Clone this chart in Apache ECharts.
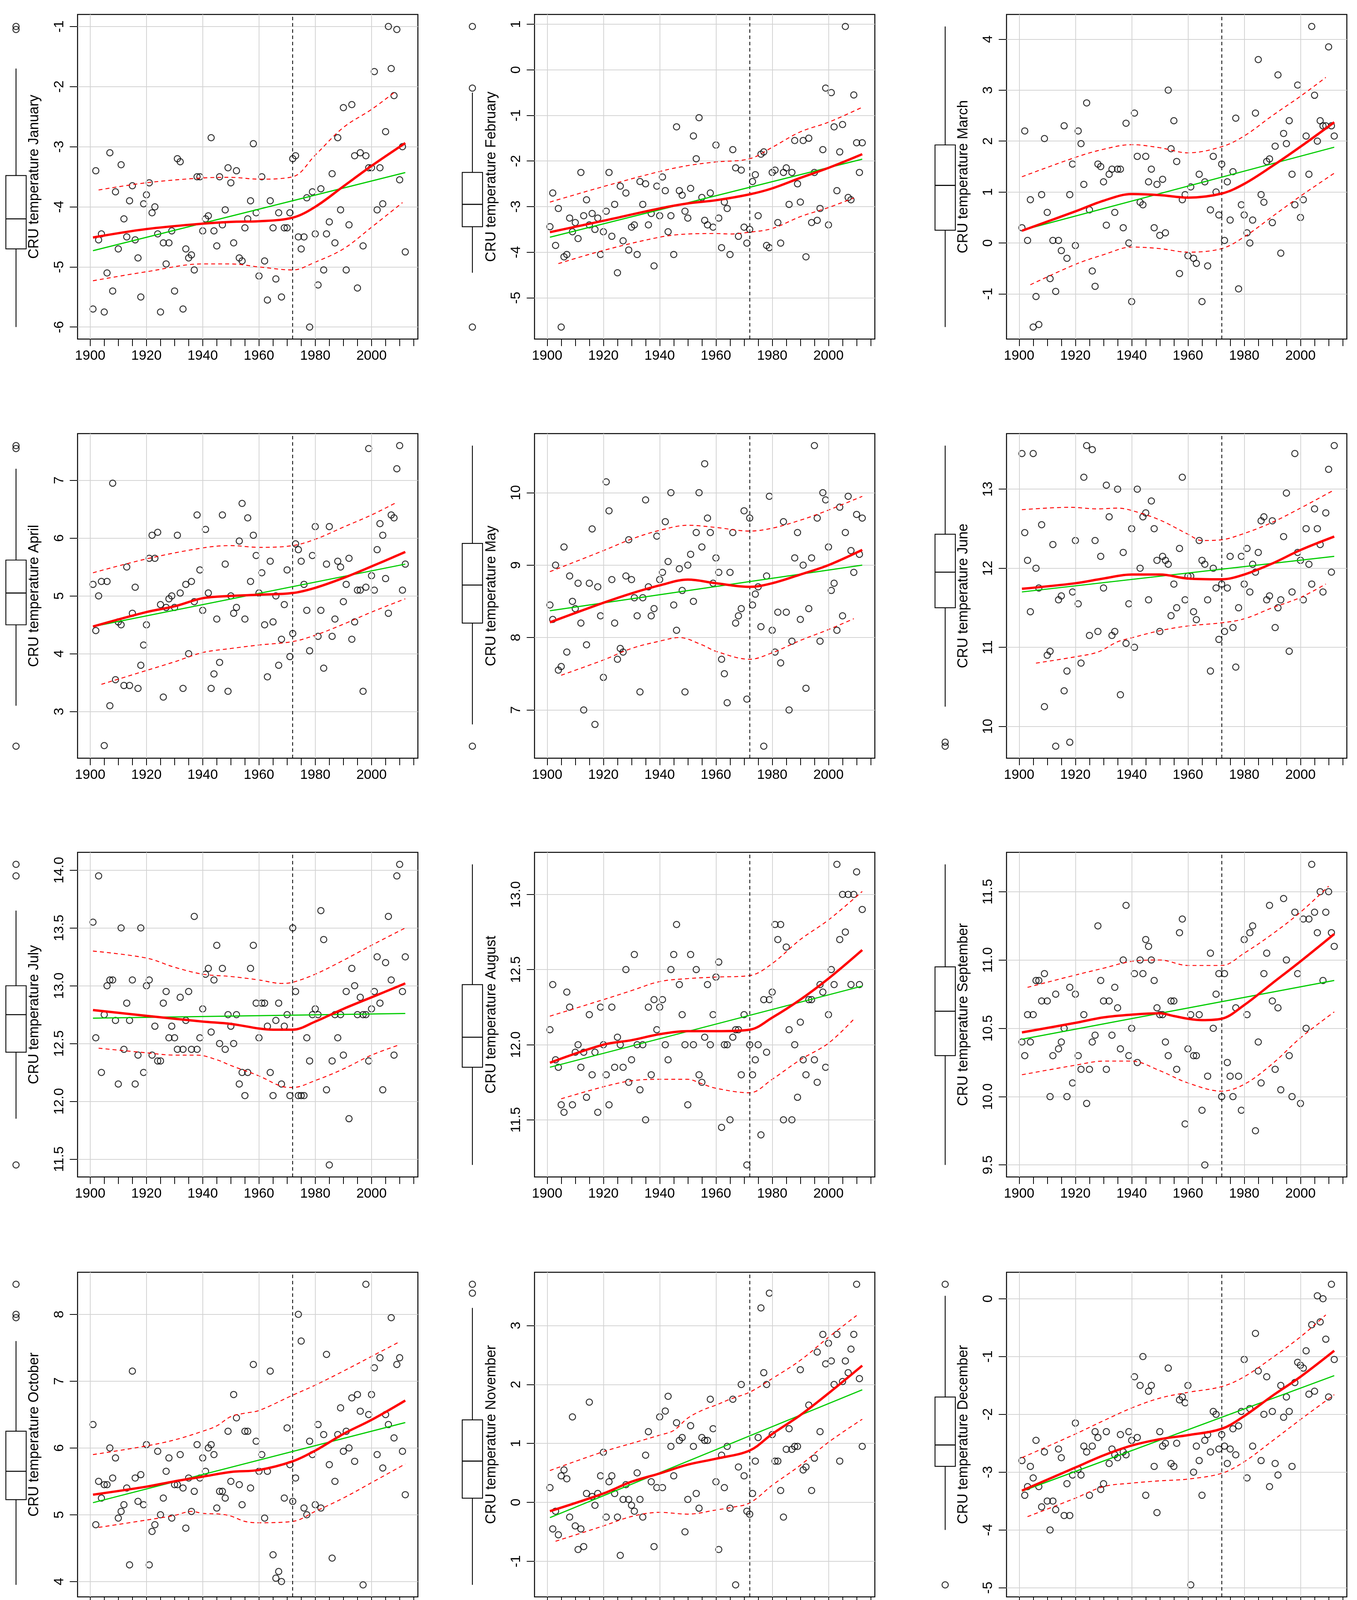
<!DOCTYPE html>
<html>
<head>
<meta charset="utf-8">
<script src="https://cdn.jsdelivr.net/npm/echarts@6/dist/echarts.min.js"></script>
<style>html,body{margin:0;padding:0;background:#fff}#c{width:3473px;height:4171px}</style>
</head>
<body>
<div id="c"></div>
<script>
// ---------------- DATA ----------------
const firstYear = 1901, lastYear = 2012;
const breakYear = 1972;
const monthNames = ['January','February','March','April','May','June','July','August','September','October','November','December'];
const xTickValues = [1900,1905,1910,1915,1920,1925,1930,1935,1940,1945,1950,1955,1960,1965,1970,1975,1980,1985,1990,1995,2000,2005,2010,2015];
const xLabelValues = [1900,1920,1940,1960,1980,2000];
const xRange = [1895.52, 2016.48];

const janVals = [-5.7,-3.4,-4.55,-4.45,-5.75,-5.1,-3.1,-5.4,-3.75,-4.7,
 -3.3,-4.2,-4.5,-3.9,-3.65,-4.55,-4.85,-5.5,-3.95,-3.8,
 -3.6,-4.1,-4.0,-4.45,-5.75,-4.6,-4.95,-4.6,-4.4,-5.4,
 -3.2,-3.25,-5.7,-4.7,-4.85,-4.8,-5.05,-3.5,-3.5,-4.4,
 -4.2,-4.15,-2.85,-4.4,-4.65,-3.5,-4.3,-4.05,-3.35,-3.6,
 -4.6,-3.4,-4.85,-4.9,-4.35,-4.2,-3.9,-2.95,-4.1,-5.15,
 -3.5,-4.9,-5.55,-3.9,-4.35,-5.2,-4.1,-5.5,-4.35,-4.35,
 -4.1,-3.2,-3.15,-4.5,-4.7,-4.5,-3.85,-6.0,-3.75,-4.45,
 -5.3,-3.7,-5.05,-4.45,-4.25,-3.45,-4.6,-2.85,-4.05,-2.35,
 -5.05,-4.3,-2.3,-3.15,-5.35,-3.1,-4.65,-3.15,-3.35,-3.35,
 -1.75,-4.05,-3.35,-3.95,-2.75,-1.0,-1.7,-2.15,-1.05,-3.55,
 -3.0,-4.75];
const febVals = [-3.44,-2.70,-3.85,-3.04,-5.64,-4.10,-4.05,-3.25,-3.55,-3.35,
 -3.70,-2.25,-3.20,-2.85,-3.40,-3.15,-3.50,-3.25,-4.05,-3.55,
 -3.10,-2.25,-3.65,-2.95,-4.45,-2.55,-3.75,-2.70,-3.95,-3.45,
 -3.40,-4.05,-2.45,-2.95,-2.50,-3.40,-3.15,-4.30,-2.55,-3.20,
 -2.35,-2.65,-3.55,-3.20,-4.05,-1.25,-2.65,-2.75,-3.10,-3.25,
 -2.60,-1.45,-1.95,-1.05,-2.80,-3.30,-3.40,-2.70,-3.45,-1.65,
 -3.25,-3.90,-2.90,-3.04,-4.05,-1.75,-2.15,-3.65,-2.20,-3.45,
 -3.80,-3.50,-2.45,-2.30,-3.20,-1.85,-1.80,-3.85,-3.90,-2.25,
 -2.20,-3.35,-3.80,-2.25,-2.15,-2.95,-2.25,-1.55,-2.50,-2.90,
 -1.55,-4.10,-1.50,-3.35,-2.25,-3.30,-3.04,-1.75,-0.40,-3.40,
 -0.50,-1.25,-2.65,-1.80,-1.20,0.95,-2.80,-2.85,-0.55,-1.60,
 -2.25,-1.60];
const marVals = [0.30,2.20,0.05,0.85,-1.65,-1.05,-1.60,0.95,2.05,0.60,
 -0.70,0.05,-0.95,0.05,-0.15,2.30,-0.30,0.95,1.55,-0.05,
 2.20,1.95,1.15,2.75,0.65,-0.55,-0.85,1.55,1.50,1.20,
 0.35,1.35,1.45,0.60,1.45,1.45,0.30,2.35,0.0,-1.15,
 2.55,1.70,0.80,0.75,1.70,1.20,1.45,0.30,1.15,0.15,
 1.25,0.20,3.00,1.85,2.40,1.60,-0.60,0.85,0.95,-0.25,
 1.10,-0.30,-0.40,1.35,-1.15,1.20,-0.45,0.65,1.70,1.00,
 0.55,1.55,0.05,1.20,0.45,1.40,2.45,-0.90,0.75,0.55,
 0.20,0.0,0.45,2.55,3.60,0.95,0.80,1.60,1.65,0.40,
 1.90,3.30,-0.20,2.15,1.95,2.40,1.35,0.75,3.10,0.50,
 0.85,2.10,1.35,4.25,2.90,2.00,2.40,2.30,2.30,3.85,
 2.30,2.10];
const aprVals = [5.20,4.40,5.00,5.25,2.41,5.25,3.10,6.95,3.55,4.55,
 4.50,3.45,5.50,3.45,4.70,5.15,3.40,3.80,4.15,4.50,
 5.65,6.05,5.65,6.10,4.85,3.25,4.80,4.95,5.00,4.80,
 6.05,5.05,3.40,5.20,4.00,5.25,4.90,6.40,5.45,4.75,
 6.15,5.05,3.40,3.65,4.60,3.85,6.40,5.55,3.35,5.00,
 4.70,4.80,5.95,6.60,4.60,6.35,5.25,6.05,5.70,5.05,
 5.40,4.50,3.60,5.60,4.55,5.00,3.80,4.25,4.85,5.45,
 3.95,4.35,5.90,5.80,5.60,5.20,4.75,4.05,5.70,6.20,
 4.30,4.75,3.75,5.55,6.20,4.30,4.60,5.60,5.50,4.90,
 5.20,5.65,4.25,4.55,5.10,5.10,3.35,5.15,7.55,5.35,
 5.10,5.80,6.25,6.05,5.30,4.70,6.40,6.35,7.20,7.60,
 5.10,5.55];
const mayVals = [8.45,8.25,9.00,7.55,7.60,9.25,7.80,8.85,8.50,8.40,
 8.75,8.20,7.00,7.90,8.75,9.50,6.80,8.70,8.30,7.45,
 10.15,9.75,8.80,8.20,7.70,7.85,7.80,8.85,9.35,8.80,
 8.55,8.30,7.25,8.55,9.90,8.70,8.30,8.40,9.40,8.80,
 8.90,9.60,9.05,10.00,8.45,8.10,8.95,8.65,7.25,9.00,
 9.15,8.50,9.45,10.00,9.25,10.40,9.65,9.45,8.75,9.10,
 8.90,7.70,7.50,7.10,8.90,9.45,8.20,8.30,8.40,9.75,
 7.15,9.65,8.45,8.60,8.70,8.15,6.50,8.85,9.95,8.10,
 7.80,8.35,7.65,9.60,8.35,7.00,7.95,9.10,9.45,8.25,
 9.00,7.30,8.40,9.10,10.65,9.65,7.95,10.00,9.90,9.25,
 8.65,8.75,8.10,9.80,8.30,9.45,9.95,9.20,8.90,9.70,
 9.15,9.65];
const junVals = [13.45,12.45,12.10,11.45,13.45,12.00,11.75,12.55,10.25,10.90,
 10.95,12.30,9.75,11.60,11.65,10.45,10.70,9.80,11.70,12.35,
 11.55,10.80,13.15,13.55,11.15,13.50,12.35,11.20,12.15,11.75,
 13.05,12.65,11.15,11.20,13.00,10.40,12.20,11.05,11.55,12.50,
 11.00,13.00,12.00,12.65,12.70,11.60,12.85,12.50,12.10,11.20,
 12.15,12.10,12.05,11.40,11.80,11.50,12.25,13.15,11.60,11.90,
 11.90,11.45,11.35,12.35,12.10,12.05,11.60,10.70,12.00,11.75,
 11.10,11.80,11.20,11.75,12.15,11.25,10.75,11.50,12.15,11.80,
 12.25,11.70,12.05,11.95,12.20,12.60,12.65,11.60,11.65,12.60,
 11.25,11.50,11.60,12.40,12.95,10.95,11.70,13.45,12.20,12.10,
 11.60,12.50,12.05,11.80,12.75,12.50,12.30,11.70,12.70,13.25,
 11.95,13.55];
const julVals = [13.55,12.55,13.95,12.25,12.75,13.00,13.05,13.05,12.70,12.15,
 13.50,12.45,12.85,12.70,13.05,12.15,12.40,13.50,12.25,13.00,
 13.05,12.40,12.65,12.35,12.35,12.85,12.95,12.55,12.65,12.55,
 12.45,12.90,12.45,12.70,12.95,12.45,13.60,12.45,12.55,12.80,
 13.10,13.15,12.60,13.05,13.35,12.50,13.15,12.45,12.75,12.65,
 12.50,12.75,12.15,12.25,12.05,12.25,13.15,13.35,12.85,12.55,
 12.85,12.85,12.65,12.25,12.05,12.70,12.85,12.15,12.65,12.75,
 12.05,13.50,12.95,12.05,12.05,12.05,12.55,12.35,12.75,12.80,
 12.75,13.65,13.40,12.10,11.45,12.35,12.75,12.55,12.75,12.40,
 12.95,11.85,13.15,13.00,12.75,12.90,12.75,12.75,12.35,12.80,
 12.95,13.25,12.85,12.10,13.20,13.60,13.05,12.40,13.95,14.05,
 12.95,13.25];
const augVals = [12.10,12.40,11.90,11.85,11.60,11.55,12.35,12.25,11.60,11.95,
 12.00,11.85,11.95,11.65,12.20,11.80,11.95,11.55,12.25,12.00,
 11.80,11.60,12.25,11.85,12.05,12.00,11.85,12.50,11.75,11.90,
 12.60,12.00,11.70,12.00,11.50,12.25,11.80,12.30,12.10,12.25,
 12.30,12.00,11.90,12.50,12.60,12.80,12.40,12.20,12.00,11.60,
 12.60,12.00,12.50,11.80,11.75,12.05,12.40,12.00,12.20,12.45,
 12.55,11.45,12.00,12.00,11.50,12.05,12.10,12.10,11.80,12.20,
 11.20,12.00,11.80,11.90,12.00,11.40,12.30,11.95,12.30,12.35,
 12.80,12.70,12.80,11.50,12.65,12.10,11.50,12.00,11.65,12.15,
 11.90,11.80,12.30,12.30,11.90,11.75,12.40,12.35,11.85,12.20,
 12.50,12.40,13.20,12.70,13.00,12.75,13.00,12.40,13.00,13.15,
 12.40,12.90];
const sepVals = [10.40,10.30,10.60,10.40,10.60,10.85,10.85,10.70,10.90,10.70,
 10.00,10.30,10.75,10.35,10.40,10.50,10.00,10.80,10.10,10.75,
 10.30,10.20,10.60,9.95,10.20,10.40,10.45,11.25,10.85,10.70,
 10.20,10.70,10.45,10.80,10.65,10.35,11.00,11.40,10.30,10.50,
 10.90,10.25,11.00,10.90,11.15,11.10,11.00,10.85,10.65,10.60,
 10.60,10.40,10.30,10.70,10.70,10.20,11.20,11.30,9.80,10.35,
 10.60,10.30,10.30,10.60,9.90,9.50,10.15,11.05,10.50,10.75,
 10.90,10.00,10.90,10.25,10.15,10.00,10.65,10.15,9.90,11.15,
 10.60,11.20,11.25,9.75,10.40,10.10,10.90,11.05,11.40,10.70,
 10.20,10.65,10.05,11.45,11.00,10.30,10.00,11.35,10.90,9.95,
 11.30,10.50,11.30,11.70,11.35,11.20,11.50,10.85,11.35,11.50,
 11.20,11.10];
const octVals = [6.35,4.85,5.50,5.25,5.45,5.45,6.00,5.55,5.85,4.95,
 5.05,5.15,5.40,4.25,7.15,5.55,5.20,5.60,5.15,6.05,
 4.25,4.75,4.85,5.95,5.00,5.25,5.65,5.85,4.95,5.45,
 5.45,5.90,5.40,4.80,5.55,5.05,5.35,6.05,5.55,5.85,
 5.65,6.00,6.05,5.90,5.10,5.35,5.35,5.25,6.25,5.50,
 6.80,6.45,5.45,5.15,6.25,6.25,5.40,7.25,6.10,5.65,
 5.90,4.95,5.65,7.15,4.40,4.05,4.15,4.00,5.25,6.30,
 5.75,5.20,5.55,8.00,7.60,5.10,5.00,6.10,5.90,5.15,
 6.35,5.10,6.20,7.40,5.75,4.35,5.50,6.20,6.60,5.95,
 6.25,6.00,6.75,5.80,6.80,6.55,3.95,8.45,6.50,6.80,
 7.20,5.90,7.35,5.70,6.50,6.35,7.95,6.15,7.25,7.35,
 5.95,5.30];
const novVals = [0.25,-0.45,-0.15,-0.55,0.45,0.55,0.40,-0.25,1.45,-0.40,
 -0.80,-0.45,-0.75,0.15,1.70,0.10,-0.05,0.15,0.45,0.85,
 -0.25,0.35,0.45,0.15,-0.25,-0.90,0.05,0.30,0.05,-0.05,
 -0.15,0.50,0.05,-0.25,0.80,1.20,0.35,-0.75,0.25,1.45,
 0.25,1.55,1.80,0.95,0.45,1.35,1.05,1.10,-0.50,0.05,
 1.30,0.95,0.15,-0.10,1.10,1.05,1.05,1.75,1.25,0.35,
 -0.80,0.80,0.25,0.95,-0.10,1.75,-1.40,0.60,2.00,0.45,
 -0.15,-0.20,0.15,0.70,1.10,3.30,2.20,2.00,3.55,1.15,
 0.70,0.70,0.20,-0.25,0.90,1.25,0.90,0.95,0.95,2.25,
 0.55,0.60,1.65,0.20,0.75,2.55,1.20,2.85,2.35,2.70,
 2.40,2.00,2.85,0.70,2.05,2.40,2.20,2.60,2.85,3.70,
 2.10,0.95];
const decVals = [-2.80,-3.40,-3.25,-2.90,-3.10,-2.45,-3.25,-3.60,-2.65,-3.50,
 -4.00,-3.50,-3.65,-2.60,-2.75,-3.75,-3.20,-3.75,-3.05,-2.15,
 -2.95,-3.05,-2.55,-2.65,-3.40,-2.55,-2.30,-2.40,-3.30,-3.20,
 -2.30,-2.85,-2.60,-2.70,-2.75,-2.35,-2.65,-2.70,-2.30,-2.45,
 -1.35,-2.40,-1.50,-1.00,-3.40,-1.60,-1.50,-2.90,-3.70,-2.30,
 -2.55,-2.50,-1.20,-2.85,-2.90,-2.50,-1.75,-1.70,-1.80,-1.50,
 -4.95,-3.00,-2.55,-2.80,-3.40,-2.45,-2.35,-2.65,-1.95,-2.00,
 -2.60,-2.35,-2.55,-2.85,-2.60,-2.25,-2.70,-2.20,-1.95,-1.05,
 -3.10,-1.90,-2.55,-0.60,-1.25,-2.80,-2.00,-1.35,-3.25,-1.95,
 -2.85,-3.05,-1.50,-2.05,-1.70,-1.95,-2.90,-1.45,-1.10,-1.15,
 -1.20,-0.90,-1.65,-0.45,-1.60,0.05,-0.40,0.00,-0.70,-1.70,
 0.25,-1.05];

// smooth fit (red), its dashed band, linear fit (green): [year, value]
const janFit = [[1901,-4.51],[1920,-4.37],[1940,-4.28],[1950,-4.25],[1960,-4.24],[1972,-4.18],[1980,-4.0],[1990,-3.66],[2000,-3.32],[2012,-2.94]];
const janUp  = [[1903,-3.72],[1920,-3.6],[1940,-3.52],[1950,-3.51],[1960,-3.54],[1972,-3.5],[1980,-3.14],[1990,-2.68],[2000,-2.38],[2008,-2.1]];
const janLo  = [[1901,-5.23],[1920,-5.08],[1940,-4.95],[1950,-4.95],[1960,-5.0],[1972,-5.05],[1980,-4.92],[1990,-4.70],[2000,-4.34],[2011,-3.93]];
const janLin = [[1901,-4.73],[2012,-3.43]];
const febFit = [[1901,-3.56],[1920,-3.31],[1940,-3.04],[1950,-2.93],[1960,-2.86],[1972,-2.73],[1980,-2.60],[1990,-2.37],[2000,-2.15],[2012,-1.85]];
const febUp  = [[1901,-2.90],[1920,-2.56],[1940,-2.23],[1950,-2.10],[1960,-2.02],[1972,-1.95],[1980,-1.70],[1990,-1.36],[2000,-1.15],[2012,-0.82]];
const febLo  = [[1904,-4.25],[1920,-3.96],[1940,-3.67],[1950,-3.60],[1960,-3.59],[1965,-3.60],[1972,-3.56],[1980,-3.48],[1990,-3.22],[2000,-3.02],[2009,-2.81]];
const febLin = [[1901,-3.67],[2012,-1.96]];
const marFit = [[1901,0.24],[1920,0.62],[1930,0.83],[1940,0.96],[1950,0.94],[1960,0.89],[1972,0.97],[1980,1.16],[1990,1.51],[2000,1.89],[2012,2.37]];
const marUp  = [[1901,1.30],[1920,1.68],[1930,1.84],[1940,1.93],[1950,1.87],[1960,1.77],[1972,1.89],[1980,2.10],[1990,2.50],[2000,2.88],[2009,3.25]];
const marLo  = [[1904,-0.82],[1920,-0.42],[1930,-0.23],[1940,-0.08],[1950,-0.11],[1960,-0.18],[1972,-0.11],[1980,0.12],[1990,0.52],[2000,0.92],[2012,1.37]];
const marLin = [[1901,0.25],[2012,1.88]];
const aprFit = [[1901,4.47],[1920,4.72],[1930,4.82],[1940,4.96],[1950,5.0],[1960,5.02],[1972,5.05],[1980,5.14],[1990,5.31],[2000,5.51],[2012,5.76]];
const aprUp  = [[1901,5.40],[1920,5.64],[1940,5.83],[1950,5.87],[1960,5.84],[1972,5.87],[1980,5.98],[1990,6.19],[2000,6.40],[2009,6.62]];
const aprLo  = [[1904,3.47],[1920,3.71],[1930,3.86],[1940,4.02],[1950,4.09],[1960,4.15],[1972,4.21],[1980,4.32],[1990,4.51],[2000,4.72],[2012,4.95]];
const aprLin = [[1901,4.47],[2012,5.55]];
const mayFit = [[1901,8.21],[1920,8.48],[1930,8.61],[1940,8.72],[1950,8.80],[1960,8.75],[1972,8.70],[1980,8.75],[1990,8.87],[2000,9.0],[2012,9.21]];
const mayUp  = [[1901,8.91],[1920,9.20],[1930,9.36],[1940,9.48],[1950,9.55],[1960,9.52],[1972,9.47],[1980,9.51],[1990,9.62],[2000,9.76],[2012,9.95]];
const mayLo  = [[1905,7.48],[1920,7.69],[1930,7.85],[1940,7.95],[1947,8.0],[1955,7.90],[1960,7.81],[1972,7.70],[1980,7.79],[1990,7.96],[2000,8.11],[2009,8.26]];
const mayLin = [[1901,8.37],[2012,9.0]];
const junFit = [[1901,11.74],[1920,11.81],[1930,11.87],[1940,11.92],[1950,11.92],[1960,11.87],[1972,11.86],[1980,11.92],[1990,12.06],[2000,12.23],[2012,12.40]];
const junUp  = [[1901,12.74],[1918,12.77],[1928,12.75],[1935,12.76],[1940,12.73],[1950,12.61],[1960,12.43],[1965,12.35],[1972,12.36],[1980,12.44],[1990,12.58],[2000,12.76],[2012,12.99]];
const junLo  = [[1906,10.80],[1920,10.88],[1928,10.94],[1935,11.07],[1940,11.12],[1950,11.21],[1960,11.27],[1972,11.31],[1980,11.36],[1990,11.50],[2000,11.63],[2009,11.80]];
const junLin = [[1901,11.70],[2012,12.15]];
const julFit = [[1901,12.79],[1920,12.74],[1940,12.69],[1950,12.67],[1960,12.63],[1965,12.62],[1972,12.62],[1980,12.69],[1990,12.80],[2000,12.90],[2012,13.02]];
const julUp  = [[1901,13.30],[1920,13.24],[1930,13.16],[1940,13.10],[1950,13.08],[1960,13.05],[1968,13.02],[1972,13.03],[1980,13.10],[1990,13.22],[2000,13.35],[2012,13.50]];
const julLo  = [[1903,12.46],[1920,12.42],[1930,12.40],[1938,12.40],[1945,12.36],[1950,12.31],[1960,12.22],[1968,12.13],[1972,12.12],[1980,12.18],[1990,12.28],[2000,12.40],[2010,12.49]];
const julLin = [[1901,12.72],[2012,12.76]];
const augFit = [[1901,11.88],[1920,12.0],[1930,12.03],[1940,12.07],[1950,12.09],[1960,12.09],[1972,12.10],[1980,12.18],[1990,12.30],[2000,12.44],[2012,12.63]];
const augUp  = [[1901,12.19],[1920,12.30],[1930,12.36],[1940,12.42],[1950,12.44],[1960,12.45],[1972,12.46],[1980,12.54],[1990,12.70],[2000,12.83],[2012,13.02]];
const augLo  = [[1905,11.64],[1920,11.72],[1930,11.76],[1940,11.77],[1950,11.77],[1955,11.74],[1960,11.71],[1972,11.68],[1980,11.77],[1990,11.90],[2000,12.01],[2009,12.17]];
const augLin = [[1901,11.85],[2012,12.39]];
const sepFit = [[1901,10.47],[1920,10.54],[1930,10.58],[1940,10.60],[1950,10.61],[1955,10.59],[1960,10.57],[1965,10.56],[1972,10.57],[1980,10.67],[1990,10.83],[2000,10.99],[2012,11.19]];
const sepUp  = [[1903,10.80],[1920,10.89],[1930,10.94],[1940,10.99],[1950,11.0],[1960,10.96],[1972,10.96],[1980,11.05],[1990,11.19],[2000,11.35],[2010,11.54]];
const sepLo  = [[1901,10.16],[1920,10.23],[1930,10.26],[1940,10.26],[1950,10.19],[1960,10.10],[1972,10.04],[1980,10.09],[1990,10.24],[2000,10.43],[2012,10.62]];
const sepLin = [[1901,10.42],[2012,10.85]];
const octFit = [[1901,5.30],[1920,5.42],[1930,5.50],[1940,5.57],[1950,5.64],[1960,5.67],[1972,5.80],[1980,5.96],[1990,6.21],[2000,6.42],[2012,6.71]];
const octUp  = [[1901,5.90],[1920,6.03],[1930,6.12],[1940,6.25],[1945,6.33],[1950,6.47],[1955,6.52],[1960,6.56],[1972,6.79],[1980,6.94],[1990,7.15],[2000,7.37],[2010,7.59]];
const octLo  = [[1903,4.81],[1920,4.92],[1930,4.99],[1936,5.05],[1940,5.02],[1946,5.01],[1950,4.98],[1955,4.90],[1960,4.88],[1972,4.90],[1980,5.05],[1990,5.25],[2000,5.48],[2012,5.76]];
const octLin = [[1901,5.18],[2012,6.38]];
const novFit = [[1901,-0.15],[1920,0.15],[1930,0.35],[1940,0.49],[1950,0.64],[1960,0.74],[1972,0.88],[1980,1.16],[1990,1.48],[2000,1.85],[2012,2.32]];
const novUp  = [[1901,0.54],[1920,0.86],[1930,1.0],[1940,1.14],[1945,1.22],[1950,1.43],[1955,1.56],[1960,1.65],[1965,1.75],[1972,1.87],[1980,2.10],[1990,2.41],[2000,2.80],[2010,3.17]];
const novLo  = [[1903,-0.66],[1920,-0.40],[1930,-0.24],[1940,-0.17],[1950,-0.20],[1960,-0.13],[1965,-0.09],[1972,-0.01],[1980,0.29],[1990,0.63],[2000,1.02],[2012,1.41]];
const novLin = [[1901,-0.26],[2012,1.91]];
const decFit = [[1901,-3.32],[1920,-2.92],[1930,-2.71],[1940,-2.54],[1950,-2.43],[1960,-2.36],[1972,-2.25],[1980,-2.03],[1990,-1.68],[2000,-1.35],[2012,-0.90]];
const decUp  = [[1901,-2.75],[1920,-2.34],[1930,-2.11],[1940,-1.89],[1950,-1.72],[1960,-1.62],[1972,-1.52],[1980,-1.35],[1990,-1.02],[2000,-0.66],[2009,-0.28]];
const decLo  = [[1903,-3.77],[1920,-3.45],[1930,-3.25],[1940,-3.19],[1950,-3.15],[1960,-3.12],[1972,-3.02],[1980,-2.82],[1990,-2.46],[2000,-2.09],[2012,-1.66]];
const decLin = [[1901,-3.33],[2012,-1.33]];

// boxplots: [lower whisker, Q1, median, Q3, upper whisker] and outliers
const janBox = [-6.0,-4.70,-4.2,-3.48,-1.70], janOut = [-1.0,-1.05];
const febBox = [-4.45,-3.44,-2.95,-2.25,-0.50], febOut = [0.95,-0.40,-5.64];
const marBox = [-1.65,0.25,1.13,1.925,4.25], marOut = [];
const aprBox = [3.10,4.50,5.05,5.62,7.20], aprOut = [7.6,7.55,2.4];
const mayBox = [6.80,8.20,8.725,9.30,10.65], mayOut = [6.5];
const junBox = [10.25,11.50,11.95,12.43,13.55], junOut = [9.8,9.75];
const julBox = [11.85,12.425,12.75,13.0,13.65], julOut = [14.05,13.95,11.45];
const augBox = [11.2,11.85,12.05,12.40,13.2], augOut = [];
const sepBox = [9.50,10.30,10.625,10.95,11.70], sepOut = [];
const octBox = [3.95,5.225,5.65,6.25,7.60], octOut = [8.45,8.0,7.95];
const novBox = [-1.40,0.07,0.70,1.40,3.30], novOut = [3.70,3.55];
const decBox = [-4.0,-2.90,-2.53,-1.70,0.05], decOut = [0.25,-4.95];

// y-axis ranges and tick labels
const yLims = [[-6.2,-0.8],[-5.904,1.214],[-1.886,4.486],[2.192,7.808],[6.334,10.816],[9.598,13.702],
               [11.346,14.154],[11.12,13.28],[9.412,11.788],[3.77,8.63],[-1.604,3.904],[-5.158,0.458]];
const yTicks = [[-6,-5,-4,-3,-2,-1],[-5,-4,-3,-2,-1,0,1],[-1,0,1,2,3,4],[3,4,5,6,7],[7,8,9,10],[10,11,12,13],
                [11.5,12.0,12.5,13.0,13.5,14.0],[11.5,12.0,12.5,13.0],[9.5,10.0,10.5,11.0,11.5],[4,5,6,7,8],[-1,0,1,2,3],[-5,-4,-3,-2,-1,0]];
const yDecimals = [0,0,0,0,0,0,1,1,1,0,0,0];

// ---------------- BUILD ----------------
const years = [];
for (let y = firstYear; y <= lastYear; y++) years.push(y);
const panels = [
  [janVals,janFit,janUp,janLo,janLin,janBox,janOut],
  [febVals,febFit,febUp,febLo,febLin,febBox,febOut],
  [marVals,marFit,marUp,marLo,marLin,marBox,marOut],
  [aprVals,aprFit,aprUp,aprLo,aprLin,aprBox,aprOut],
  [mayVals,mayFit,mayUp,mayLo,mayLin,mayBox,mayOut],
  [junVals,junFit,junUp,junLo,junLin,junBox,junOut],
  [julVals,julFit,julUp,julLo,julLin,julBox,julOut],
  [augVals,augFit,augUp,augLo,augLin,augBox,augOut],
  [sepVals,sepFit,sepUp,sepLo,sepLin,sepBox,sepOut],
  [octVals,octFit,octUp,octLo,octLin,octBox,octOut],
  [novVals,novFit,novUp,novLo,novLin,novBox,novOut],
  [decVals,decFit,decUp,decLo,decLin,decBox,decOut]
];

const FONT = 'Liberation Sans, Arial, sans-serif';
const colLeft = [198.5, 1368, 2576];
const plotW = 871;
const rowTop = [37, 1110, 2182, 3257];
const plotH = 831;
const boxCx = [41, 1209, 2419];
const boxHalf = 26;
const gridColor = '#d3d3d3';
const ptSize = 16, ptBorder = 2.5;

const grid = [], xAxis = [], yAxis = [], series = [];

function renderBox(params, api) {
  const pMin = api.coord([0, api.value(1)]);
  const pQ1 = api.coord([0, api.value(2)]);
  const pMed = api.coord([0, api.value(3)]);
  const pQ3 = api.coord([0, api.value(4)]);
  const pMax = api.coord([0, api.value(5)]);
  const cx = pMed[0];
  const st = {stroke: '#000', lineWidth: 2.2, fill: null};
  return {type: 'group', children: [
    {type: 'line', shape: {x1: cx, y1: pQ3[1], x2: cx, y2: pMax[1]}, style: st},
    {type: 'line', shape: {x1: cx, y1: pQ1[1], x2: cx, y2: pMin[1]}, style: st},
    {type: 'rect', shape: {x: cx - boxHalf, y: pQ3[1], width: 2 * boxHalf, height: pQ1[1] - pQ3[1]}, style: {fill: '#fff', stroke: '#000', lineWidth: 2.2}},
    {type: 'line', shape: {x1: cx - boxHalf, y1: pMed[1], x2: cx + boxHalf, y2: pMed[1]}, style: {stroke: '#000', lineWidth: 2.6}}
  ]};
}

panels.forEach((p, i) => {
  const [vals, fit, up, lo, lin, box, out] = p;
  const r = Math.floor(i / 3), c = i % 3;
  const g = 2 * i, gb = 2 * i + 1;
  const dec = yDecimals[i];
  grid.push({left: colLeft[c], top: rowTop[r], width: plotW, height: plotH, show: true,
             borderColor: '#000', borderWidth: 2.5, backgroundColor: 'transparent', containLabel: false});
  grid.push({left: boxCx[c] - 40, top: rowTop[r], width: 80, height: plotH, show: false});

  const xa = xAxis.length;
  xAxis.push({gridIndex: g, type: 'value', position: 'bottom', min: xRange[0], max: xRange[1],
    axisLine: {show: false, onZero: false},
    axisTick: {show: true, length: 18, customValues: xTickValues, lineStyle: {color: '#000', width: 2}},
    axisLabel: {show: true, customValues: xLabelValues, margin: 26, fontSize: 35, color: '#000', fontFamily: FONT,
                formatter: v => String(v)},
    splitLine: {show: false}});
  xAxis.push({gridIndex: gb, type: 'category', data: [''], show: false, axisLine: {onZero: false}});

  const ya = yAxis.length;
  yAxis.push({gridIndex: g, type: 'value', min: yLims[i][0], max: yLims[i][1],
    name: 'CRU temperature ' + monthNames[i], nameLocation: 'middle', nameGap: 92, nameRotate: 90,
    nameTextStyle: {fontSize: 36, color: '#000', fontFamily: FONT},
    axisLine: {show: false, onZero: false},
    axisTick: {show: true, length: 20, customValues: yTicks[i], lineStyle: {color: '#000', width: 2}},
    axisLabel: {show: true, customValues: yTicks[i], rotate: 90, margin: 29, fontSize: 35, color: '#000', fontFamily: FONT,
                formatter: v => Number(v).toFixed(dec)},
    splitLine: {show: true, lineStyle: {color: gridColor, width: 2}}});
  yAxis.push({gridIndex: gb, type: 'value', min: yLims[i][0], max: yLims[i][1], show: false, splitLine: {show: false}});

  // vertical grid lines at the labelled years (behind everything)
  series.push({type: 'line', xAxisIndex: xa, yAxisIndex: ya, data: [], z: 1, silent: true,
    markLine: {silent: true, symbol: ['none', 'none'], label: {show: false}, animation: false,
      lineStyle: {color: gridColor, width: 2, type: 'solid'},
      data: xLabelValues.map(v => ({xAxis: v}))}});

  series.push({type: 'scatter', xAxisIndex: xa, yAxisIndex: ya, z: 3,
    data: years.map((y, k) => [y, vals[k]]), symbol: 'circle', symbolSize: ptSize,
    itemStyle: {color: 'rgba(255,255,255,0)', borderColor: '#000', borderWidth: ptBorder},
    markLine: {silent: true, symbol: ['none', 'none'], label: {show: false}, animation: false,
      lineStyle: {color: '#000', width: 2, type: [9, 7]}, data: [{xAxis: breakYear}]}});
  const lineBase = {type: 'line', xAxisIndex: xa, yAxisIndex: ya, showSymbol: false, symbol: 'none', smooth: 0.35};
  series.push(Object.assign({}, lineBase, {data: up, z: 4, lineStyle: {color: '#ff0000', width: 2.4, type: [10, 8]}}));
  series.push(Object.assign({}, lineBase, {data: lo, z: 4, lineStyle: {color: '#ff0000', width: 2.4, type: [10, 8]}}));
  series.push(Object.assign({}, lineBase, {data: lin, z: 5, smooth: false, lineStyle: {color: '#00cc00', width: 3}}));
  series.push(Object.assign({}, lineBase, {data: fit, z: 6, lineStyle: {color: '#ff0000', width: 6}}));

  series.push({type: 'custom', xAxisIndex: xa + 1, yAxisIndex: ya + 1, renderItem: renderBox,
    data: [[0].concat(box)], encode: {x: 0, y: [1, 2, 3, 4, 5]}, z: 3});
  series.push({type: 'scatter', xAxisIndex: xa + 1, yAxisIndex: ya + 1, z: 4,
    data: out.map(v => [0, v]), symbol: 'circle', symbolSize: ptSize,
    itemStyle: {color: 'rgba(255,255,255,0)', borderColor: '#000', borderWidth: ptBorder}});
});

const chart = echarts.init(document.getElementById('c'), null, {renderer: 'canvas', width: 3473, height: 4171});
chart.setOption({animation: false, backgroundColor: '#fff', textStyle: {fontFamily: FONT},
  grid, xAxis, yAxis, series});
</script>
</body>
</html>
